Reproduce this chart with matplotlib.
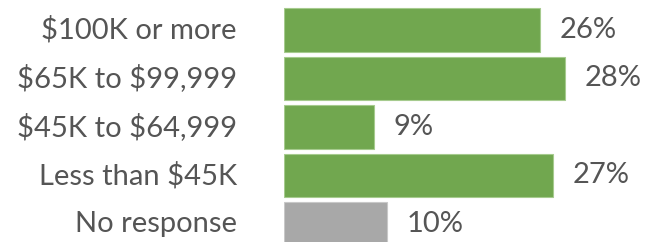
import matplotlib
matplotlib.use("Agg")
import matplotlib.pyplot as plt

# income brackets, top to bottom
categories = ["$100K or more", "$65K to $99,999", "$45K to $64,999",
              "Less than $45K", "No response"]
values = [25.6, 28.1, 9.0, 26.9, 10.3]   # percent
labels = ["26%", "28%", "9%", "27%", "10%"]
colors = ["#71A74F", "#71A74F", "#71A74F", "#71A74F", "#A8A8A8"]
edges = ["#A6CB8E", "#A6CB8E", "#A6CB8E", "#A6CB8E", "#C8C8C8"]

plt.rcParams["font.family"] = ["Lato", "DejaVu Sans"]
plt.rcParams["text.parse_math"] = False
text_col = "#555555"

W, H = 646, 242
fig = plt.figure(figsize=(W / 100, H / 100), dpi=100)
ax = fig.add_axes([284 / W, 0, (W - 284) / W, 1])

y = list(range(len(categories)))
ax.barh(y, values, height=0.9, color=colors, edgecolor=edges, linewidth=0.8)

# axis limits chosen so 1 unit = 10 px across, 48.5 px per row
ax.set_xlim(0, (W - 284) / 10)
ax.set_ylim(4 + 18 / 48.5, -30 / 48.5)
ax.axis("off")

for yi, v, lab in zip(y, values, labels):
    ax.annotate(lab, (v, yi), xytext=(14, 0), textcoords="offset points",
                va="center", ha="left", fontsize=21, color=text_col)

for yi, cat in zip(y, categories):
    ax.annotate(cat, (0, yi), xytext=(-34, 0), textcoords="offset points",
                va="center", ha="right", fontsize=21, color=text_col,
                annotation_clip=False)

fig.savefig("out.png", dpi=100)
